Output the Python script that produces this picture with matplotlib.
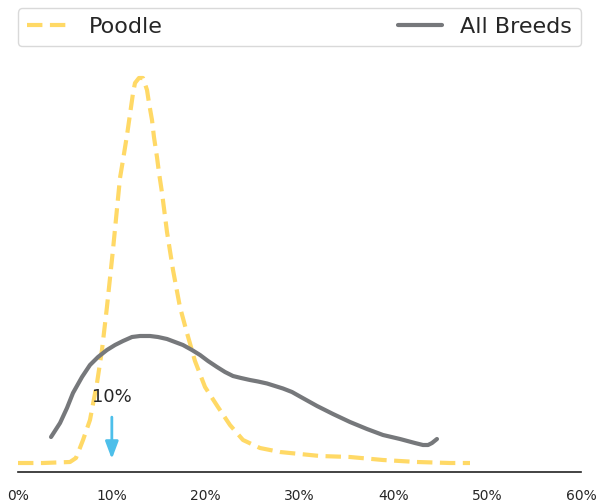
import matplotlib.pyplot as plt
import numpy as np

# values (x in %, y in density-like units)
poodle_x = [0.0, 2.66, 5.54, 6.18, 6.93, 7.67, 8.42, 8.95, 9.48, 10.12, 10.87, 11.19,
            11.62, 11.94, 12.26, 12.47, 12.89, 13.32, 13.75, 13.96, 14.28, 14.49,
            14.81, 15.03, 15.35, 15.88, 16.52, 17.26, 18.01, 18.86, 19.93, 21.31,
            22.59, 23.98, 25.79, 27.92, 30.05, 32.18, 35.38, 38.90, 42.52, 46.04, 48.17]
poodle_y = [0.09, 0.09, 0.10, 0.14, 0.32, 0.52, 0.89, 1.22, 1.65, 2.22, 2.94, 3.12,
            3.37, 3.58, 3.79, 3.89, 3.94, 3.94, 3.82, 3.69, 3.52, 3.35,
            3.15, 2.99, 2.79, 2.40, 2.02, 1.65, 1.39, 1.11, 0.85, 0.65,
            0.47, 0.32, 0.24, 0.20, 0.18, 0.16, 0.15, 0.12, 0.10, 0.09, 0.09]

breeds_x = [3.52, 4.48, 5.22, 5.86, 6.82, 7.67, 8.53, 9.48, 10.34, 11.19, 12.15,
            13.00, 14.07, 14.92, 15.88, 16.73, 17.58, 18.54, 19.40, 20.25, 21.21,
            22.06, 22.91, 23.77, 24.72, 25.58, 26.54, 27.39, 28.24, 29.20, 30.05,
            31.87, 33.57, 35.38, 37.19, 38.90, 40.71, 42.30, 43.16, 43.70, 44.12, 44.65]
breeds_y = [0.35, 0.49, 0.64, 0.79, 0.95, 1.07, 1.15, 1.22, 1.27, 1.31, 1.35,
            1.36, 1.36, 1.35, 1.33, 1.30, 1.27, 1.22, 1.17, 1.11, 1.05,
            1.00, 0.96, 0.94, 0.92, 0.905, 0.885, 0.86, 0.835, 0.80, 0.755,
            0.66, 0.58, 0.50, 0.43, 0.37, 0.33, 0.29, 0.27, 0.27, 0.29, 0.33]

marker_x = 10
xticks = [0, 10, 20, 30, 40, 50, 60]

yellow = "#FFD966"
gray = "#76787B"
blue = "#4DBFEA"

fig = plt.figure(figsize=(5.97, 5.04), dpi=100)
ax = fig.add_axes([18 / 597, 32 / 504, 563 / 597, 412 / 504])

ax.plot(poodle_x, poodle_y, color=yellow, linewidth=3, linestyle="--",
        dashes=(3.7, 1.8), label="Poodle")
ax.plot(breeds_x, breeds_y, color=gray, linewidth=3, solid_capstyle="round",
        solid_joinstyle="round", label="All Breeds")

ax.annotate(f"{marker_x}%", xy=(marker_x, 0.13), xytext=(marker_x, 0.75),
            ha="center", va="center", fontsize=13, color="#262626",
            arrowprops=dict(arrowstyle="-|>,head_width=0.3,head_length=0.8",
                            color=blue, lw=2, shrinkA=6, shrinkB=0))

ax.set_xlim(0, 60)
ax.set_ylim(0, 4.12)
ax.set_xticks(xticks)
ax.set_xticklabels([f"{t}%" for t in xticks], fontsize=10, color="#262626")
ax.tick_params(axis="x", length=0, pad=12)
ax.set_yticks([])
for side in ["left", "right", "top"]:
    ax.spines[side].set_visible(False)
ax.spines["bottom"].set_color("#222222")
ax.spines["bottom"].set_linewidth(1.2)

leg = ax.legend(loc="lower left", bbox_to_anchor=(0, 1.034, 1, 0.05), mode="expand",
                ncol=2, borderaxespad=0, fontsize=16, frameon=True)
leg.get_frame().set_edgecolor("#d0d0d0")
for t in leg.get_texts():
    t.set_color("#262626")

fig.savefig("out.png", dpi=100)
